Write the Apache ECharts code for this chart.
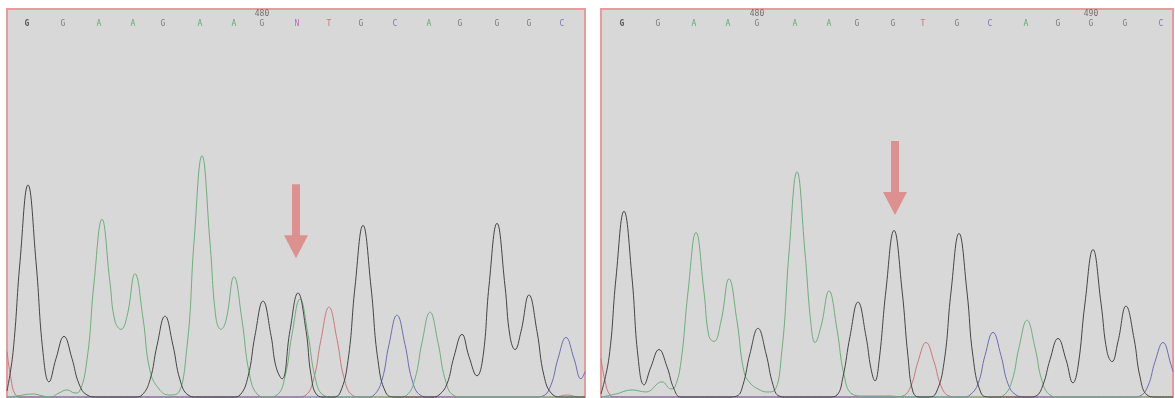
<!DOCTYPE html>
<html>
<head>
<meta charset="utf-8">
<script src="https://cdn.jsdelivr.net/npm/echarts@6/dist/echarts.min.js"></script>
<style>
  html, body { margin: 0; padding: 0; background: #ffffff; overflow: hidden; }
  /* canvas is taller than the view so the plot frames run off the bottom edge */
  #chart { width: 1175px; height: 412px; }
</style>
</head>
<body>
<div id="chart"></div>
<script>
// ---- Trace data: [scan, signal] points per dye channel ----
// Panel 1 (base call N at position 481)
const p1Black = [[0,6],[6,44],[13,134],[21,210],[29,134],[36,44],[42,15],[49,38],[57,60],[65,38],[72,13],[80,2],[90,0],
  [128,0],[135,2],[143,17],[150,51],[158,80],[166,51],[173,17],[181,2],[190,0],
  [226,0],[233,2],[241,20],[248,61],[256,95],[264,61],[269,30],[275,18],[283,66],[291,103],[299,66],[304,22],[310,2],[318,0],
  [326,0],[333,4],[341,36],[348,109],[356,170],[364,109],[371,36],[379,4],[388,0],
  [425,0],[432,2],[440,13],[447,40],[455,62],[462,40],[470,21],[476,40],[482,110],[490,172],[498,110],[503,60],[508,47],[514,65],[522,101],[530,65],[537,21],[545,3],[555,0],[578,0]];
const p1Green = [[0,0],[10,1],[26,3],[36,1],[43,0],[52,4],[60,7],[68,4],[72,5],[80,37],[87,113],[95,176],[103,113],[108,75],[114,67],
  [120,80],[128,122],[136,78],[143,26],[152,8],[162,2],[170,3],[180,50],[187,153],[195,239],[203,153],[209,78],[214,67],
  [219,76],[227,119],[235,76],[242,25],[250,3],[260,0],[270,2],[278,20],[285,62],[293,97],[301,62],[308,20],[316,2],[326,0],
  [392,0],[400,2],[408,18],[415,54],[423,84],[431,54],[438,18],[446,2],[456,0],[578,0]];
const p1Red = [[0,45],[4,18],[8,3],[14,0],[290,0],[299,2],[307,19],[314,57],[322,89],[330,57],[337,19],[345,2],[354,0],
  [548,0],[560,2],[572,0],[578,0]];
const p1Blue = [[0,0],[360,0],[367,2],[375,17],[382,52],[390,81],[398,52],[405,17],[413,2],[422,0],
  [528,0],[536,1],[544,12],[551,38],[559,59],[567,38],[574,18],[578,25]];

// Panel 2 (wild-type G at the same site)
const p2Black = [[0,3],[8,39],[15,118],[23,184],[31,118],[37,40],[43,12],[50,30],[58,47],[66,30],[73,8],[80,0],
  [128,0],[136,1],[142,12],[149,43],[157,68],[165,43],[172,12],[178,1],[186,0],
  [228,0],[236,2],[242,20],[249,60],[257,94],[265,60],[270,28],[274,16],[278,35],[285,106],[293,165],[301,106],[307,40],[312,5],[318,0],
  [328,0],[335,4],[343,34],[350,104],[358,162],[366,104],[372,40],[380,4],[388,0],
  [428,0],[435,1],[442,12],[449,37],[457,58],[465,37],[472,14],[477,30],[484,93],[492,146],[500,93],[506,45],[511,35],[517,55],[525,90],[533,58],[539,20],[546,2],[555,0],[572,0]];
const p2Green = [[0,0],[15,3],[31,7],[45,5],[61,15],[70,8],[74,10],[80,35],[87,104],[95,163],[103,104],[108,60],[113,55],
  [120,75],[128,117],[136,75],[143,25],[149,14],[157,8],[166,5],[173,6],[181,47],[188,143],[196,223],[204,143],[210,72],[214,54],
  [220,70],[228,105],[236,67],[243,22],[251,3],[262,1],[290,1],[300,0],
  [395,0],[403,2],[411,16],[418,49],[426,76],[434,49],[441,16],[449,2],[458,0],[572,0]];
const p2Red = [[0,38],[4,16],[9,2],[15,0],[294,0],[302,1],[310,11],[317,35],[325,54],[333,35],[340,11],[348,1],[356,0],[572,0]];
const p2Blue = [[0,0],[362,0],[369,2],[377,13],[384,41],[392,64],[400,41],[407,13],[415,2],[424,0],
  [532,0],[539,1],[547,11],[554,35],[562,54],[570,32],[572,25]];

// ---- Base calls and their scan positions ----
const p1Bases = ['G','G','A','A','G','A','A','G','N','T','G','C','A','G','G','G','C'];
const p1BasePos = [20,56,92,126,156,193,227,255,290,322,354,388,422,453,490,522,555];
const p2Bases = ['G','G','A','A','G','A','A','G','G','T','G','C','A','G','G','G','C'];
const p2BasePos = [21,57,93,127,156,194,228,256,292,322,356,389,425,457,490,524,560];

// Sequence position numbers (index into the base calls)
const p1Ticks = ['480'];
const p1TickIdx = [7];
const p2Ticks = ['480', '490'];
const p2TickIdx = [4, 14];

// Base call highlighted by an arrow in each panel
const p1Marked = 8;
const p2Marked = 8;

const scanMax = [578, 572];
const dye = { black: '#454545', green: '#6caf7c', red: '#cc7878', blue: '#6c6cb4' };
const baseColor = { G: '#666666', A: '#44a05a', T: '#c46464', C: '#6464b4', N: '#b450b4' };
const arrowPath = 'path://M8 0L16 0L16 51L24 51L12 74L0 51L8 51Z';

function traceSeries(idx, data, color, extra) {
  return Object.assign({
    type: 'line', xAxisIndex: idx, yAxisIndex: idx, data: data,
    smooth: 0.45, showSymbol: false, symbol: 'none',
    lineStyle: { color: color, width: 1 }, silent: true, z: 3
  }, extra || {});
}

function baseSeries(idx, bases, pos) {
  return {
    type: 'scatter', xAxisIndex: idx, yAxisIndex: idx, symbolSize: 1, silent: true,
    itemStyle: { color: 'rgba(0,0,0,0)' }, z: 5,
    data: bases.map((b, i) => ({
      value: [pos[i], 370],
      label: {
        show: true, position: 'inside', formatter: b,
        color: i === 0 ? '#3a3a3a' : baseColor[b],
        fontWeight: i === 0 ? 'bold' : 'normal',
        fontFamily: 'DejaVu Sans Mono', fontSize: 8
      }
    }))
  };
}

function tickSeries(idx, ticks, tickIdx, pos) {
  return {
    type: 'scatter', xAxisIndex: idx, yAxisIndex: idx, symbolSize: 1, silent: true,
    itemStyle: { color: 'rgba(0,0,0,0)' }, z: 5,
    data: ticks.map((t, i) => ({
      value: [pos[tickIdx[i]], 379],
      label: { show: true, position: 'inside', formatter: t, color: '#555555',
        fontFamily: 'DejaVu Sans Mono', fontSize: 8 }
    }))
  };
}

function arrowMark(x, y) {
  return {
    symbol: arrowPath, symbolSize: [24, 74], silent: true,
    itemStyle: { color: '#dd9090' }, label: { show: false },
    data: [{ coord: [x, y] }]
  };
}

// Plot area extends below the visible edge so its lower frame line stays hidden
const frame = { top: 9, height: 392, show: true, backgroundColor: '#d8d8d8', borderColor: '#e69c9c', borderWidth: 2 };

const chart = echarts.init(document.getElementById('chart'), null, { renderer: 'canvas' });
chart.setOption({
  animation: false,
  backgroundColor: '#ffffff',
  grid: [
    Object.assign({ left: 7, width: 578 }, frame),
    Object.assign({ left: 601, width: 572 }, frame)
  ],
  xAxis: [0, 1].map(i => ({ type: 'value', gridIndex: i, min: 0, max: scanMax[i], show: false })),
  yAxis: [0, 1].map(i => ({ type: 'value', gridIndex: i, min: -3.96, max: 384.3, show: false })),
  series: [
    traceSeries(0, p1Red, dye.red),
    traceSeries(0, p1Blue, dye.blue),
    traceSeries(0, p1Green, dye.green),
    traceSeries(0, p1Black, dye.black, { markPoint: arrowMark(p1BasePos[p1Marked] - 1, 174) }),
    baseSeries(0, p1Bases, p1BasePos),
    tickSeries(0, p1Ticks, p1TickIdx, p1BasePos),
    traceSeries(1, p2Red, dye.red),
    traceSeries(1, p2Blue, dye.blue),
    traceSeries(1, p2Green, dye.green),
    traceSeries(1, p2Black, dye.black, { markPoint: arrowMark(p2BasePos[p2Marked] + 2, 217) }),
    baseSeries(1, p2Bases, p2BasePos),
    tickSeries(1, p2Ticks, p2TickIdx, p2BasePos)
  ]
});
</script>
</body>
</html>
